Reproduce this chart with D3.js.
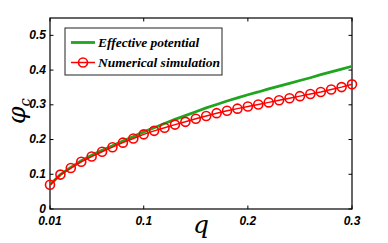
<!DOCTYPE html>
<html>
<head>
<meta charset="utf-8">
<script src="https://cdn.jsdelivr.net/npm/d3@7/dist/d3.min.js"></script>
<style>
  body { margin: 0; background: #fff; }
  svg { display: block; }
  .tick-label { font-family: "Liberation Sans", Arial, sans-serif; font-weight: bold; font-style: italic; font-size: 12px; fill: #000; }
  .legend-text { font-family: "Liberation Serif", "Times New Roman", serif; font-weight: bold; font-style: italic; font-size: 13.5px; fill: #000; }
  .axis-label { font-family: "DejaVu Serif", "Liberation Serif", serif; font-style: italic; fill: #000; }
</style>
</head>
<body>
<svg width="388" height="243"></svg>
<script>
// q values (x) shared by both series
var qValues = [0.01, 0.02, 0.03, 0.04, 0.05, 0.06, 0.07, 0.08, 0.09, 0.10,
  0.11, 0.12, 0.13, 0.14, 0.15, 0.16, 0.17, 0.18, 0.19, 0.20,
  0.21, 0.22, 0.23, 0.24, 0.25, 0.26, 0.27, 0.28, 0.29, 0.30];

// effective potential (green line)
var effectiveValues = [0.070, 0.099, 0.120, 0.139, 0.155, 0.169, 0.182, 0.196, 0.209, 0.222,
  0.234, 0.246, 0.258, 0.269, 0.280, 0.291, 0.301, 0.311, 0.320, 0.329,
  0.337, 0.346, 0.354, 0.362, 0.370, 0.378, 0.387, 0.395, 0.403, 0.411];

// numerical simulation (red circles)
var simulationValues = [0.070, 0.099, 0.118, 0.136, 0.151, 0.165, 0.178, 0.191, 0.203, 0.215,
  0.225, 0.234, 0.243, 0.251, 0.260, 0.268, 0.276, 0.283, 0.289, 0.295,
  0.301, 0.307, 0.313, 0.319, 0.325, 0.331, 0.337, 0.344, 0.351, 0.359];

var xTicks = [0.01, 0.1, 0.2, 0.3],
  xTickLabels = ["0.01", "0.1", "0.2", "0.3"];
var yTicks = [0, 0.1, 0.2, 0.3, 0.4, 0.5],
  yTickLabels = ["0", "0.1", "0.2", "0.3", "0.4", "0.5"];

var legendLabels = ["Effective potential", "Numerical simulation"];

var svg = d3.select("svg");

//plot box in pixels
var boxLeft = 50, boxRight = 352, boxTop = 18, boxBottom = 209;

var x = d3.scaleLinear().domain([0.01, 0.3]).range([boxLeft, boxRight]);
var y = d3.scaleLinear().domain([0, 0.55]).range([boxBottom, boxTop]);

var green = "#1fa51f", red = "#ff0000";

//frame
svg.append("rect")
  .attr("x", boxLeft).attr("y", boxTop)
  .attr("width", boxRight - boxLeft).attr("height", boxBottom - boxTop)
  .attr("fill", "none").attr("stroke", "#000").attr("stroke-width", 1.2);

//inward ticks on all four sides (MATLAB style)
var tickLen = 3.5;
var ticks = svg.append("g").attr("stroke", "#000").attr("stroke-width", 1);
xTicks.forEach(function(t) {
  ticks.append("line").attr("x1", x(t)).attr("x2", x(t)).attr("y1", boxBottom).attr("y2", boxBottom - tickLen);
  ticks.append("line").attr("x1", x(t)).attr("x2", x(t)).attr("y1", boxTop).attr("y2", boxTop + tickLen);
});
yTicks.forEach(function(t) {
  ticks.append("line").attr("x1", boxLeft).attr("x2", boxLeft + tickLen).attr("y1", y(t)).attr("y2", y(t));
  ticks.append("line").attr("x1", boxRight).attr("x2", boxRight - tickLen).attr("y1", y(t)).attr("y2", y(t));
});

//tick labels
svg.selectAll("text.xlab")
  .data(xTicks)
  .enter().append("text")
  .attr("class", "tick-label xlab")
  .attr("x", function(d) { return x(d); })
  .attr("y", boxBottom + 15.5)
  .attr("text-anchor", "middle")
  .text(function(d, i) { return xTickLabels[i]; });

svg.selectAll("text.ylab")
  .data(yTicks)
  .enter().append("text")
  .attr("class", "tick-label ylab")
  .attr("x", boxLeft - 4)
  .attr("y", function(d) { return y(d) + 3.5; })
  .attr("text-anchor", "end")
  .text(function(d, i) { return yTickLabels[i]; });

//axis labels
svg.append("text")
  .attr("class", "axis-label")
  .attr("x", x(0.155)).attr("y", 233)
  .attr("text-anchor", "middle")
  .style("font-size", "25px")
  .text("q");

var yl = svg.append("text")
  .attr("class", "axis-label")
  .attr("transform", "translate(25,111) rotate(-90)")
  .attr("text-anchor", "middle")
  .style("font-size", "25px");
yl.append("tspan").text("φ");
yl.append("tspan").attr("dy", 5).style("font-size", "15px").text("c");

var pts = qValues.map(function(q, i) {
  return { q: q, eff: effectiveValues[i], sim: simulationValues[i] };
});

var lineEff = d3.line().x(function(d) { return x(d.q); }).y(function(d) { return y(d.eff); });
var lineSim = d3.line().x(function(d) { return x(d.q); }).y(function(d) { return y(d.sim); });

svg.append("path")
  .datum(pts)
  .attr("d", lineEff)
  .attr("fill", "none").attr("stroke", green).attr("stroke-width", 2.8);

svg.append("path")
  .datum(pts)
  .attr("d", lineSim)
  .attr("fill", "none").attr("stroke", red).attr("stroke-width", 1.5);

svg.selectAll("circle.sim")
  .data(pts)
  .enter().append("circle")
  .attr("class", "sim")
  .attr("cx", function(d) { return x(d.q); })
  .attr("cy", function(d) { return y(d.sim); })
  .attr("r", 4.5)
  .attr("fill", "none").attr("stroke", red).attr("stroke-width", 1.6);

//legend
var legend = svg.append("g");
legend.append("rect")
  .attr("x", 65).attr("y", 28)
  .attr("width", 157).attr("height", 47)
  .attr("fill", "#fff").attr("stroke", "#222").attr("stroke-width", 1);

legend.append("line")
  .attr("x1", 71).attr("x2", 95).attr("y1", 42.5).attr("y2", 42.5)
  .attr("stroke", green).attr("stroke-width", 2.8);
legend.append("line")
  .attr("x1", 71).attr("x2", 95).attr("y1", 62.5).attr("y2", 62.5)
  .attr("stroke", red).attr("stroke-width", 1.5);
legend.append("circle")
  .attr("cx", 83).attr("cy", 62.5).attr("r", 4.5)
  .attr("fill", "none").attr("stroke", red).attr("stroke-width", 1.6);

legend.selectAll("text")
  .data(legendLabels)
  .enter().append("text")
  .attr("class", "legend-text")
  .attr("x", 98)
  .attr("y", function(d, i) { return 47 + i * 20; })
  .text(function(d) { return d; });
</script>
</body>
</html>
